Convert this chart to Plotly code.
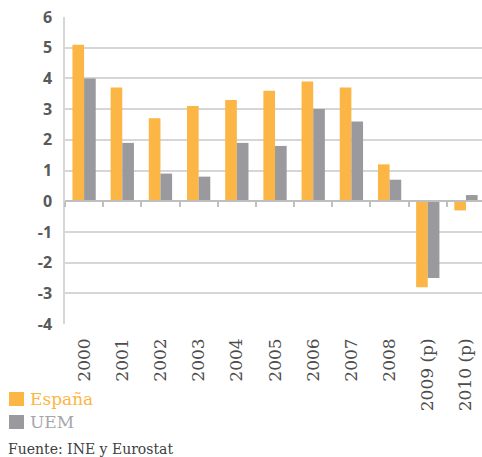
import plotly.graph_objects as go

years = ["2000", "2001", "2002", "2003", "2004", "2005", "2006", "2007", "2008", "2009 (p)", "2010 (p)"]
espana = [5.1, 3.7, 2.7, 3.1, 3.3, 3.6, 3.9, 3.7, 1.2, -2.8, -0.3]
uem = [4.0, 1.9, 0.9, 0.8, 1.9, 1.8, 3.0, 2.6, 0.7, -2.5, 0.2]
y_ticks = [6, 5, 4, 3, 2, 1, 0, -1, -2, -3, -4]
y_tick_labels = ["6", "5", "4", "3", "2", "1", "0", "-1", "-2", "-3", "-4"]
series_names = ["España", "UEM"]

ORANGE = "#FBB645"
GRAY = "#9A9A9E"
LEG_TEXT = [ORANGE, "#A6A6AA"]

fig = go.Figure()
fig.add_trace(go.Bar(x=years, y=espana, name=series_names[0],
                     marker=dict(color=ORANGE, line=dict(width=0))))
fig.add_trace(go.Bar(x=years, y=uem, name=series_names[1],
                     marker=dict(color=GRAY, line=dict(width=0))))
fig.add_trace(go.Scatter(x=years, y=[None] * len(years), xaxis="x2", showlegend=False,
                         hoverinfo="skip", mode="markers"))

W = 482 - 65
H = 457 - 17 - 133


def px_x(p):
    return (p - 65) / W


def px_y(p):
    return (457 - 133 - p) / H


shapes = []
annotations = []
for i, (nm, col) in enumerate(zip(series_names, [ORANGE, GRAY])):
    yc = 399 + i * 23
    shapes.append(dict(type="rect", xref="paper", yref="paper",
                       x0=px_x(9), x1=px_x(24), y0=px_y(yc + 7), y1=px_y(yc - 7),
                       fillcolor=col, line=dict(width=0)))
    annotations.append(dict(text=nm, xref="paper", yref="paper", x=px_x(28), y=px_y(yc),
                            xanchor="left", yanchor="middle", showarrow=False,
                            font=dict(family="DejaVu Serif", size=17, color=LEG_TEXT[i])))
annotations.append(dict(text="Fuente: INE y Eurostat", xref="paper", yref="paper",
                        x=px_x(6), y=px_y(449), xanchor="left", yanchor="middle",
                        showarrow=False,
                        font=dict(family="DejaVu Serif", size=14, color="#404040")))

fig.update_layout(
    width=482, height=457,
    margin=dict(l=65, r=0, t=17, b=133, autoexpand=False),
    paper_bgcolor="white", plot_bgcolor="white",
    barmode="group", bargap=0.39, bargroupgap=0,
    showlegend=False,
    xaxis=dict(type="category", range=[-0.5, 10.42], showgrid=False, showline=False,
               ticks="", tickangle=-90, automargin=False,
               tickfont=dict(family="DejaVu Serif", size=17, color="#4d4d4d"),
               ticklabelstandoff=10),
    xaxis2=dict(type="category", overlaying="x", anchor="free", position=0.4,
                range=[-0.5, 10.42], showline=True, linecolor="#BFBFBF", linewidth=1.5,
                ticks="outside", tickson="boundaries", ticklen=5, tickcolor="#BFBFBF",
                tickwidth=1.5, showticklabels=False, showgrid=False, side="bottom",
                automargin=False),
    yaxis=dict(range=[-4, 6], tickvals=y_ticks, ticktext=y_tick_labels, showgrid=True,
               gridcolor="#D6D6D6", gridwidth=2, zeroline=False, showline=True,
               linecolor="#D6D6D6", linewidth=1.5, ticks="", automargin=False,
               tickfont=dict(family="Open Sans", size=16, color="#595959", weight=700),
               ticklabelstandoff=8),
    shapes=shapes,
    annotations=annotations,
)

fig.write_html("out.html", config={"displayModeBar": False},
               post_script="document.body.style.margin='0';document.body.style.padding='0';")
